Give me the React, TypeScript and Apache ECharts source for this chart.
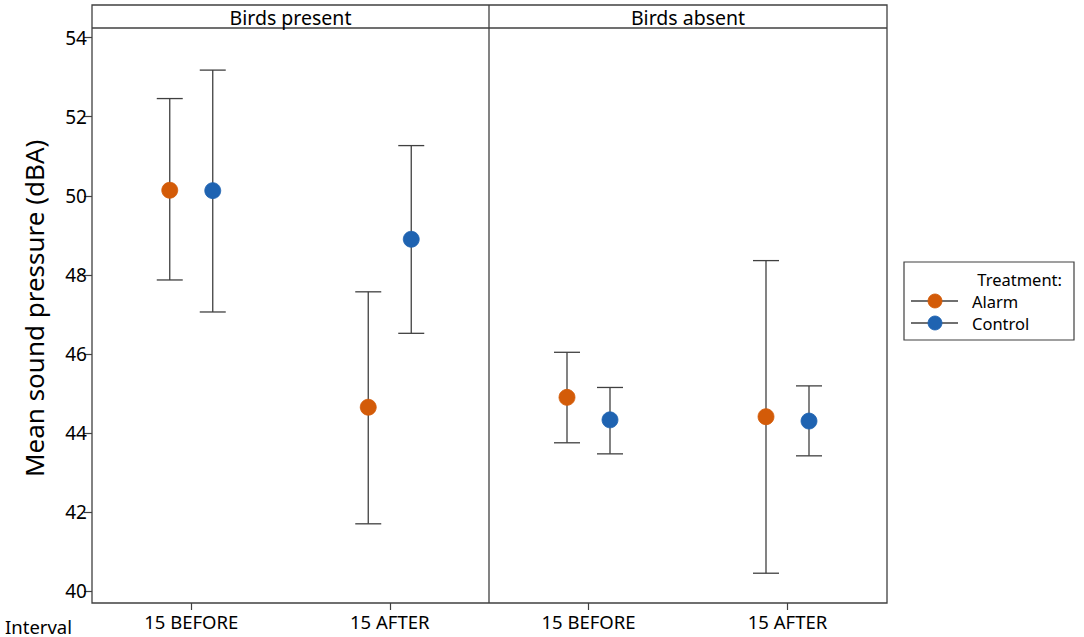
import React, { useEffect, useRef } from "react";
import * as echarts from "echarts";

const intervals = ["15 BEFORE", "15 AFTER"];
const panels = ["Birds present", "Birds absent"];
const treatments = ["Alarm", "Control"];
const treatmentColors = ["#D35B08", "#1F63B1"];
const yTicks = [40, 42, 44, 46, 48, 50, 52, 54];

// Birds present
const presentAlarmMean = [50.14, 44.65];
const presentAlarmLow = [47.87, 41.7];
const presentAlarmHigh = [52.46, 47.57];
const presentControlMean = [50.13, 48.9];
const presentControlLow = [47.06, 46.52];
const presentControlHigh = [53.18, 51.27];
// Birds absent
const absentAlarmMean = [44.9, 44.41];
const absentAlarmLow = [43.75, 40.45];
const absentAlarmHigh = [46.04, 48.36];
const absentControlMean = [44.33, 44.3];
const absentControlLow = [43.47, 43.42];
const absentControlHigh = [45.15, 45.19];

const FONT = "'Noto Sans', sans-serif";
const FRAME = "#404040";

const L = 92, R = 887, T = 5, STRIP = 28, B = 603, MID = 489;
const Y54 = 37.7, Y40 = 591;

function buildData(mean: number[], low: number[], high: number[]) {
  return mean.map((m, i) => [i, m, low[i], high[i]]);
}

export default function App() {
  const ref = useRef<HTMLDivElement>(null);
  useEffect(() => {
    if (!ref.current) return;
    const chart = echarts.init(ref.current, undefined, { renderer: "svg" });

    const makeSeries = (
      name: string,
      gridIdx: number,
      tIdx: number,
      data: number[][]
    ) => ({
      type: "custom",
      name,
      xAxisIndex: gridIdx,
      yAxisIndex: gridIdx,
      data,
      renderItem: (params: any, api: any) => {
        const dodge = tIdx === 0 ? -21.5 : 21.5;
        const pm = api.coord([api.value(0), api.value(1)]);
        const pl = api.coord([api.value(0), api.value(2)]);
        const ph = api.coord([api.value(0), api.value(3)]);
        const x = pm[0] + dodge;
        const cap = 13;
        const ls = { stroke: FRAME, lineWidth: 1.3 };
        return {
          type: "group",
          children: [
            { type: "line", shape: { x1: x, y1: pl[1], x2: x, y2: ph[1] }, style: ls },
            { type: "line", shape: { x1: x - cap, y1: pl[1], x2: x + cap, y2: pl[1] }, style: ls },
            { type: "line", shape: { x1: x - cap, y1: ph[1], x2: x + cap, y2: ph[1] }, style: ls },
            {
              type: "circle",
              shape: { cx: x, cy: pm[1], r: 8 },
              style: { fill: treatmentColors[tIdx], stroke: treatmentColors[tIdx], lineWidth: 0.8 },
            },
          ],
        };
      },
    });

    const gridTop = Y54;
    const gridH = Y40 - Y54;

    const xAxisCommon = {
      type: "category",
      data: intervals,
      boundaryGap: true,
      offset: B - Y40,
      axisLine: { show: false },
      axisTick: { show: true, alignWithLabel: true, length: 7, lineStyle: { color: FRAME, width: 1.2 } },
      axisLabel: { fontFamily: FONT, fontSize: 18.5, color: "#000", margin: 9 },
      splitLine: { show: false },
    };

    const option: any = {
      animation: false,
      backgroundColor: "#fff",
      grid: [
        { left: L, top: gridTop, width: MID - L, height: gridH },
        { left: MID, top: gridTop, width: R - MID, height: gridH },
      ],
      xAxis: [
        { ...xAxisCommon, gridIndex: 0 },
        { ...xAxisCommon, gridIndex: 1 },
      ],
      yAxis: [
        {
          type: "value",
          gridIndex: 0,
          min: yTicks[0],
          max: yTicks[yTicks.length - 1],
          interval: 2,
          axisLine: { show: false },
          axisTick: { show: true, length: 8, lineStyle: { color: FRAME, width: 1.2 } },
          axisLabel: { fontFamily: FONT, fontSize: 19, color: "#000", margin: 5 },
          splitLine: { show: false },
          name: "Mean sound pressure (dBA)",
          nameLocation: "middle",
          nameGap: 45,
          nameTextStyle: { fontFamily: FONT, fontSize: 26, color: "#000", padding: [0, 0, 0, 12] },
        },
        {
          type: "value",
          gridIndex: 1,
          min: yTicks[0],
          max: yTicks[yTicks.length - 1],
          interval: 2,
          show: false,
        },
      ],
      series: [
        makeSeries("Alarm", 0, 0, buildData(presentAlarmMean, presentAlarmLow, presentAlarmHigh)),
        makeSeries("Control", 0, 1, buildData(presentControlMean, presentControlLow, presentControlHigh)),
        makeSeries("Alarm", 1, 0, buildData(absentAlarmMean, absentAlarmLow, absentAlarmHigh)),
        makeSeries("Control", 1, 1, buildData(absentControlMean, absentControlLow, absentControlHigh)),
      ],
      graphic: [
        {
          type: "rect",
          shape: { x: L, y: T, width: R - L, height: B - T },
          style: { fill: "none", stroke: FRAME, lineWidth: 1.3 },
          silent: true,
        },
        {
          type: "line",
          shape: { x1: L, y1: STRIP, x2: R, y2: STRIP },
          style: { stroke: FRAME, lineWidth: 1.3 },
        },
        {
          type: "line",
          shape: { x1: MID, y1: T, x2: MID, y2: B },
          style: { stroke: FRAME, lineWidth: 1.3 },
        },
        {
          type: "text",
          x: (L + MID) / 2,
          y: (T + STRIP) / 2 + 1,
          style: { text: panels[0], fontFamily: FONT, fontSize: 19.5, fill: "#000", align: "center", verticalAlign: "middle" },
        },
        {
          type: "text",
          x: (MID + R) / 2,
          y: (T + STRIP) / 2 + 1,
          style: { text: panels[1], fontFamily: FONT, fontSize: 19.5, fill: "#000", align: "center", verticalAlign: "middle" },
        },
        {
          type: "text",
          x: 5,
          y: 626,
          style: { text: "Interval", fontFamily: FONT, fontSize: 18.5, fill: "#000", align: "left", verticalAlign: "middle" },
        },
        // legend
        {
          type: "rect",
          shape: { x: 904, y: 262, width: 170, height: 78 },
          style: { fill: "#fff", stroke: FRAME, lineWidth: 1.2 },
        },
        {
          type: "text",
          x: 1062,
          y: 279,
          style: { text: "Treatment:", fontFamily: FONT, fontSize: 16.5, lineHeight: 17, fill: "#000", align: "right", verticalAlign: "middle" },
        },
        ...treatments.flatMap((t, i) => {
          const cy = 301 + i * 22;
          return [
            { type: "line", shape: { x1: 911, y1: cy, x2: 958, y2: cy }, style: { stroke: FRAME, lineWidth: 1.3 } },
            { type: "circle", shape: { cx: 935, cy, r: 7 }, style: { fill: treatmentColors[i], stroke: treatmentColors[i], lineWidth: 0.8 } },
            {
              type: "text",
              x: 972,
              y: cy,
              style: { text: t, fontFamily: FONT, fontSize: 16.5, lineHeight: 17, fill: "#000", align: "left", verticalAlign: "middle" },
            },
          ];
        }),
      ],
    };

    chart.setOption(option);
    return () => chart.dispose();
  }, []);

  return (
    <div
      ref={ref}
      style={{ position: "fixed", left: 0, top: 0, width: 1084, height: 637, background: "#fff" }}
    />
  );
}
